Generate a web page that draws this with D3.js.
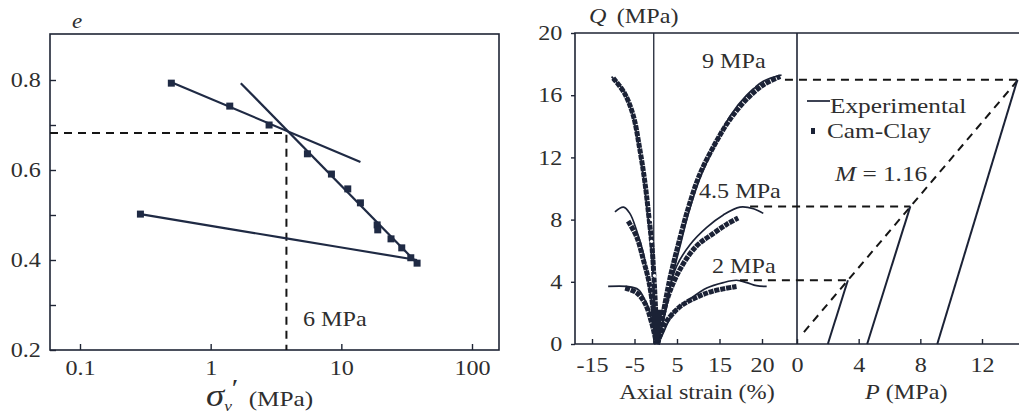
<!DOCTYPE html>
<meta charset="utf-8">
<script src="https://cdn.jsdelivr.net/npm/d3@7"></script>
<style>
  body { margin: 0; background: #fff; }
  svg text { font-family: "Liberation Serif", "Times New Roman", serif; fill: #2e2e2e; }
  .frame { fill: none; stroke: #1f2535; stroke-width: 1.6px; }
  .axis line { stroke: #1f2535; stroke-width: 1.4px; }
  .axis text { font-size: 21px; }
  .exp { fill: none; stroke: #1b2236; stroke-width: 1.7px; }
  .fit { fill: none; stroke: #1f2a44; stroke-width: 2.2px; }
  .cam { fill: none; stroke: #1b2236; stroke-width: 5px; stroke-dasharray: 5 0.9; }
  .dash { fill: none; stroke: #151515; stroke-width: 2px; stroke-dasharray: 8 6; }
</style>

<div id="wrapper"></div>

<script>
  // ---------- data: left chart (e vs sigma_v') ----------
  const sigmaPts = [0.5, 1.4, 2.8, 5.5, 8.4, 11.2, 14, 18.8, 19, 24, 29, 34, 38, 0.29];
  const ePts     = [0.793, 0.742, 0.70, 0.636, 0.591, 0.558, 0.527, 0.478, 0.467, 0.447, 0.427, 0.405, 0.393, 0.502];
  const recompLine = [[0.5, 0.795], [14, 0.618]];
  const virginLine = [[1.7, 0.793], [38, 0.393]];
  const unloadLine = [[0.29, 0.502], [3.8, 0.448], [38, 0.40]];
  const yieldSigma = 3.8, yieldE = 0.682;
  const sigmaTicks = [0.1, 1, 10, 100];
  const eTicks = [0.2, 0.3, 0.4, 0.5, 0.6, 0.7, 0.8];
  const eLabels = ["0.2", "", "0.4", "", "0.6", "", "0.8"];

  // ---------- data: right chart (Q vs strain, Q vs P) ----------
  const strainTicks = [-15, -5, 5, 15, 25];
  const strainLabels = ["-15", "-5", "5", "15", "20"];
  const qTicks = [0, 4, 8, 12, 16, 20];
  const pTicks = [0, 4, 8, 12];

  const exp9 = [[-10.4, 17.2], [-7.6, 16.3], [-5.7, 15.0], [-4.1, 12.9], [-2.9, 10.8], [-2.0, 8.6],
                [-1.2, 6.5], [-0.6, 4.3], [-0.2, 2.2], [0.2, 0]];
  const exp9R = [[0.2, 0], [2.4, 2.2], [3.9, 4.3], [5.9, 6.5], [7.9, 8.6], [10.6, 10.8], [14.1, 12.9],
                 [17.6, 14.7], [21.4, 16.0], [25.3, 16.9], [29.6, 17.3]];
  const cam9 = [[-10.0, 17.1], [-7.3, 16.1], [-5.3, 14.7], [-3.8, 12.6], [-2.6, 10.5], [-1.7, 8.4],
                [-0.9, 6.3], [-0.4, 4.2], [0.0, 2.0], [0.3, 0]];
  const cam9R = [[0.4, 0], [1.9, 2.2], [3.4, 4.3], [5.4, 6.5], [7.5, 8.6], [10.2, 10.8], [13.8, 12.8],
                 [17.6, 14.5], [21.6, 15.8], [25.5, 16.7], [29.3, 17.2]];

  const exp45 = [[-9.6, 8.5], [-7.6, 8.8], [-6.1, 8.4], [-4.5, 7.3], [-2.9, 5.8], [-1.8, 4.1],
                 [-0.7, 2.2], [0.2, 0]];
  const exp45R = [[0.2, 0], [1.4, 1.1], [3.0, 3.3], [4.9, 5.0], [8.1, 6.4], [12.0, 7.5], [15.9, 8.3],
                  [19.8, 8.8], [23.0, 8.7], [25.3, 8.4]];
  const cam45 = [[-6.5, 7.9], [-4.5, 6.9], [-2.9, 5.4], [-1.6, 4.0], [-0.5, 2.0], [0.2, 0]];
  const cam45R = [[0.4, 0], [2.6, 2.8], [5.7, 4.8], [9.6, 6.3], [13.5, 7.1], [16.7, 7.7], [19.4, 8.1]];

  const exp2 = [[-11.2, 3.7], [-6.8, 3.7], [-4.1, 3.5], [-2.5, 2.8], [-1.4, 2.0], [-0.4, 0.9], [0.2, 0]];
  const exp2R = [[0.2, 0], [1.4, 0.5], [4.1, 2.0], [8.1, 2.9], [12.0, 3.6], [15.9, 3.95], [19.0, 4.1],
                 [21.4, 3.95], [23.7, 3.75], [26.1, 3.7]];
  const cam2 = [[-7.2, 3.6], [-4.5, 3.3], [-2.5, 2.6], [-1.0, 1.4], [0.2, 0]];
  const cam2R = [[0.4, 0], [2.2, 1.3], [5.7, 2.4], [9.6, 3.0], [13.5, 3.4], [19.0, 3.7]];

  const hollowDots = [[-1.0, 8.0], [-1.0, 6.6], [-0.3, 4.4], [23, 16.6]];

  const stressPaths = [[[2.0, 0], [3.3, 4.1]], [[4.55, 0], [7.35, 8.85]], [[9.1, 0], [14.3, 17.0]]];
  const cslLine = [[0.45, 0.77], [14.35, 17.0]];
  const peakQ = [17.0, 8.85, 4.1];
  const peakStrain = [30.4, 22.2, 19.8];
  const peakP = [14.4, 7.35, 3.3];

  // ---------- svg ----------
  const W = 1019, H = 417;
  const sx = 1.15; // the scanned lettering is a bit wide

  const svg = d3.select("#wrapper")
    .append("svg")
    .attr("width", W)
    .attr("height", H);

  function label(x, y, parts, size, anchor) {
    const t = svg.append("text")
      .attr("transform", `translate(${x},${y}) scale(${sx},1)`)
      .attr("text-anchor", anchor || "start")
      .style("font-size", size + "px");
    parts.forEach(p => {
      t.append("tspan")
        .attr("font-style", p.it ? "italic" : null)
        .attr("dx", p.dx || null)
        .attr("dy", p.dy || null)
        .style("font-size", p.size ? p.size + "px" : null)
        .text(p.t);
    });
    return t;
  }

  // ===== left chart =====
  const L = { left: 50, right: 499, top: 34, bottom: 350 };
  const x = d3.scaleLog().domain([0.1, 100]).range([80, 472]);
  const y = d3.scaleLinear().domain([0.2, 0.8]).range([350, 80]);

  svg.append("rect").attr("class", "frame")
    .attr("x", L.left).attr("y", L.top)
    .attr("width", L.right - L.left).attr("height", L.bottom - L.top);

  const xAx = svg.append("g").attr("class", "axis")
    .attr("transform", `translate(0,${L.bottom})`)
    .call(d3.axisBottom(x).tickValues(sigmaTicks).tickSize(-6).tickPadding(10).tickFormat(d => String(d)));
  const yAx = svg.append("g").attr("class", "axis")
    .attr("transform", `translate(${L.left},0)`)
    .call(d3.axisLeft(y).tickValues(eTicks).tickSize(-6).tickPadding(8).tickFormat((d, i) => eLabels[i]));
  [xAx, yAx].forEach(g => {
    g.select(".domain").remove();
    g.selectAll("text").attr("fill", "#2e2e2e").attr("transform", `scale(${sx},1)`);
  });

  const lineL = d3.line().x(d => x(d[0])).y(d => y(d[1]));
  // yield construction
  svg.append("path").attr("class", "dash")
    .attr("d", d3.line()([[L.left, y(yieldE)], [x(yieldSigma), y(yieldE)], [x(yieldSigma), L.bottom]]));

  [recompLine, virginLine].forEach(l => svg.append("path").attr("class", "fit").attr("d", lineL(l)));
  svg.append("path").attr("class", "fit")
    .attr("d", lineL.curve(d3.curveCatmullRom)(unloadLine));

  svg.append("g").selectAll("rect")
    .data(sigmaPts)
    .join("rect")
    .attr("x", (d, i) => x(d) - 3.5)
    .attr("y", (d, i) => y(ePts[i]) - 3.5)
    .attr("width", 7).attr("height", 7)
    .attr("fill", "#1f2a44");

  label(72, 28, [{ t: "e", it: true }], 20);
  label(303, 326, [{ t: "6 MPa" }], 21);
  label(206, 406, [{ t: "σ", it: true, size: 32 }, { t: "v", it: true, size: 15, dy: 5 },
                   { t: "′", size: 26, dy: -14 }, { t: "(MPa)", size: 22, dx: 9, dy: 9 }], 22);

  // ===== right chart =====
  const R = { left: 575, right: 1019, top: 33, bottom: 344 };
  const s = d3.scaleLinear().domain([-15, 25]).range([592, 762]);
  const p = d3.scaleLinear().domain([0, 12]).range([797, 982]);
  const q = d3.scaleLinear().domain([0, 20]).range([344, 33]);

  svg.append("path").attr("class", "frame")
    .attr("d", d3.line()([[R.right, R.top], [R.left, R.top], [R.left, R.bottom], [R.right, R.bottom]]));
  svg.append("line").attr("class", "frame")
    .attr("x1", p(0)).attr("x2", p(0)).attr("y1", R.top).attr("y2", R.bottom);
  svg.append("line").attr("class", "frame").style("stroke-width", "1.3px")
    .attr("x1", s(0) - 2).attr("x2", s(0) - 2).attr("y1", R.top).attr("y2", R.bottom);

  const qAx = svg.append("g").attr("class", "axis")
    .attr("transform", `translate(${R.left},0)`)
    .call(d3.axisLeft(q).tickValues(qTicks).tickSize(4).tickPadding(7));
  const sAx = svg.append("g").attr("class", "axis")
    .attr("transform", `translate(0,${R.bottom})`)
    .call(d3.axisBottom(s).tickValues(strainTicks).tickSize(-5).tickPadding(13).tickFormat((d, i) => strainLabels[i]));
  const pAx = svg.append("g").attr("class", "axis")
    .attr("transform", `translate(0,${R.bottom})`)
    .call(d3.axisBottom(p).tickValues(pTicks).tickSize(-5).tickPadding(13));
  [qAx, sAx, pAx].forEach(g => {
    g.select(".domain").remove();
    g.selectAll("text").attr("fill", "#2e2e2e").attr("transform", `scale(${sx},1)`);
  });

  const lineS = d3.line().x(d => s(d[0])).y(d => q(d[1])).curve(d3.curveCatmullRom);
  const lineP = d3.line().x(d => p(d[0])).y(d => q(d[1]));

  // Cam-Clay predictions: heavy dotted bands
  [cam9, cam9R, cam45, cam45R, cam2, cam2R].forEach(c =>
    svg.append("path").attr("class", "cam").attr("d", lineS(c)));
  // experimental curves
  [exp9, exp9R, exp45, exp45R, exp2, exp2R].forEach(c =>
    svg.append("path").attr("class", "exp").attr("d", lineS(c)));
  // convergence blob at the origin
  svg.append("path").attr("fill", "#1b2236")
    .attr("d", d3.line()([[s(-1.2), q(2.2)], [s(1.6), q(2.2)], [s(0.6), q(0)], [s(-0.2), q(0)]]));
  svg.append("g").selectAll("circle")
    .data(hollowDots)
    .join("circle")
    .attr("cx", d => s(d[0])).attr("cy", d => q(d[1]))
    .attr("r", 1.6).attr("fill", "#fff");

  // peak lines carried across to the P panel
  peakQ.forEach((v, i) => svg.append("path").attr("class", "dash")
    .attr("d", d3.line()([[s(peakStrain[i]), q(v)], [p(peakP[i]), q(v)]])));
  svg.append("path").attr("class", "dash").attr("d", lineP(cslLine));
  stressPaths.forEach(sp => svg.append("path").attr("class", "exp").style("stroke-width", "2px").attr("d", lineP(sp)));

  // legend
  svg.append("line").attr("class", "exp")
    .attr("x1", 807).attr("x2", 830).attr("y1", 101).attr("y2", 101);
  label(830, 113, [{ t: "Experimental" }], 22);
  svg.append("rect").attr("x", 811).attr("y", 128).attr("width", 4).attr("height", 6).attr("fill", "#1b2236");
  label(827, 138, [{ t: "Cam-Clay" }], 22);
  label(835, 181, [{ t: "M", it: true }, { t: " = 1.16" }], 22);

  label(702, 68, [{ t: "9 MPa" }], 21);
  label(699, 198, [{ t: "4.5 MPa" }], 21);
  label(712, 273, [{ t: "2 MPa" }], 21);

  label(589, 23, [{ t: "Q", it: true }, { t: "(MPa)", dx: 9 }], 21);
  label(697, 399, [{ t: "Axial strain (%)" }], 21, "middle");
  label(865, 399, [{ t: "P", it: true }, { t: " (MPa)" }], 21);
</script>
